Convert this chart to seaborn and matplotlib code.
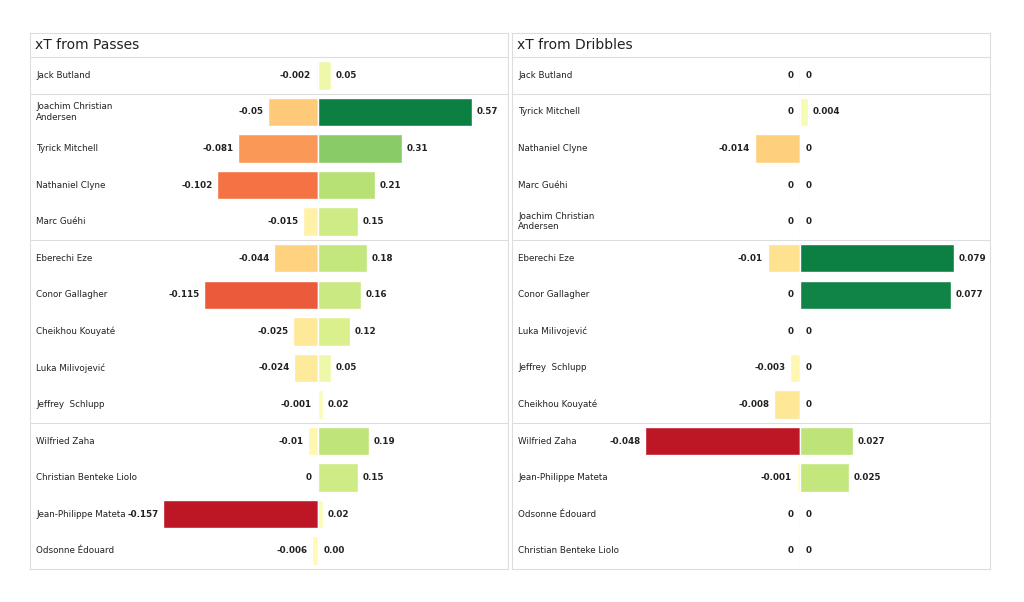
import matplotlib
matplotlib.use("Agg")
import matplotlib.pyplot as plt
import seaborn as sns
import numpy as np
import pandas as pd

sns.set_style("white")
plt.rcParams['font.family'] = ['DejaVu Sans']

pass_names = ["Jack Butland", "Joachim Christian\nAndersen", "Tyrick Mitchell", "Nathaniel Clyne",
              "Marc Guéhi", "Eberechi Eze", "Conor Gallagher", "Cheikhou Kouyaté",
              "Luka Milivojević", "Jeffrey  Schlupp", "Wilfried Zaha", "Christian Benteke Liolo",
              "Jean-Philippe Mateta", "Odsonne Édouard"]
pass_neg = [-0.002, -0.05, -0.081, -0.102, -0.015, -0.044, -0.115, -0.025, -0.024, -0.001,
            -0.01, 0, -0.157, -0.006]
pass_pos = [0.05, 0.57, 0.31, 0.21, 0.15, 0.18, 0.16, 0.12, 0.05, 0.02, 0.19, 0.15, 0.02, 0.00]

drib_names = ["Jack Butland", "Tyrick Mitchell", "Nathaniel Clyne", "Marc Guéhi",
              "Joachim Christian\nAndersen", "Eberechi Eze", "Conor Gallagher", "Luka Milivojević",
              "Jeffrey  Schlupp", "Cheikhou Kouyaté", "Wilfried Zaha", "Jean-Philippe Mateta",
              "Odsonne Édouard", "Christian Benteke Liolo"]
drib_neg = [0, 0, -0.014, 0, 0, -0.01, 0, 0, -0.003, -0.008, -0.048, -0.001, 0, 0]
drib_pos = [0, 0.004, 0, 0, 0, 0.079, 0.077, 0, 0, 0, 0.027, 0.025, 0, 0]

cmap = plt.get_cmap("RdYlGn")
fig = plt.figure(figsize=(10.24, 6.02), dpi=100)
W, H = 1024, 602

def panel(left, names, neg, pos, title, posfmt):
    ax = fig.add_axes([left / W, 33 / H, 478 / W, 536 / H])
    neg = np.array(neg, float); pos = np.array(pos, float)
    nn = neg / abs(neg.min()); pn = pos / pos.max()
    nd = np.where(nn == 0, -0.01, nn); pd_ = np.where(pn == 0, 0.01, pn)
    idx = [str(i) for i in range(len(names))]
    df = pd.DataFrame({"row": idx, "neg": nd, "pos": pd_})
    ncol = [cmap(0.5 + 0.45 * v) for v in nn]
    pcol = [cmap(0.5 + 0.45 * v) for v in pn]
    sns.barplot(data=df, x="neg", y="row", hue="row", palette=ncol, legend=False,
                orient="h", width=0.78, ax=ax, saturation=1)
    sns.barplot(data=df, x="pos", y="row", hue="row", palette=pcol, legend=False,
                orient="h", width=0.78, ax=ax, saturation=1)
    ax.set_xlim(-1.86, 1.23)
    ax.set_ylim(13.5, -1.16)
    ax.set_xticks([]); ax.set_yticks([])
    ax.set_xlabel(""); ax.set_ylabel("")
    for s in ax.spines.values():
        s.set_color("#dddddd"); s.set_linewidth(0.8)
    for i, n in enumerate(names):
        ax.text(-1.82, i, n, fontsize=6.3, va="center", ha="left", color="#222222")
        ax.text(nd[i] - 0.03, i, f"{neg[i]:g}", fontsize=6.3, fontweight="bold",
                va="center", ha="right", color="#222222")
        ax.text(pd_[i] + 0.03, i, posfmt(pos[i]), fontsize=6.3, fontweight="bold",
                va="center", ha="left", color="#222222")
    for y in [-0.5, 0.5, 4.5, 9.5]:
        ax.axhline(y, color="#dddddd", lw=0.8)
    ax.text(-1.83, -0.83, title, fontsize=10, va="center", ha="left", color="#222222")

panel(30, pass_names, pass_neg, pass_pos, "xT from Passes", lambda v: f"{v:.2f}")
panel(512, drib_names, drib_neg, drib_pos, "xT from Dribbles", lambda v: f"{v:g}")

fig.savefig("out.png", dpi=100)
